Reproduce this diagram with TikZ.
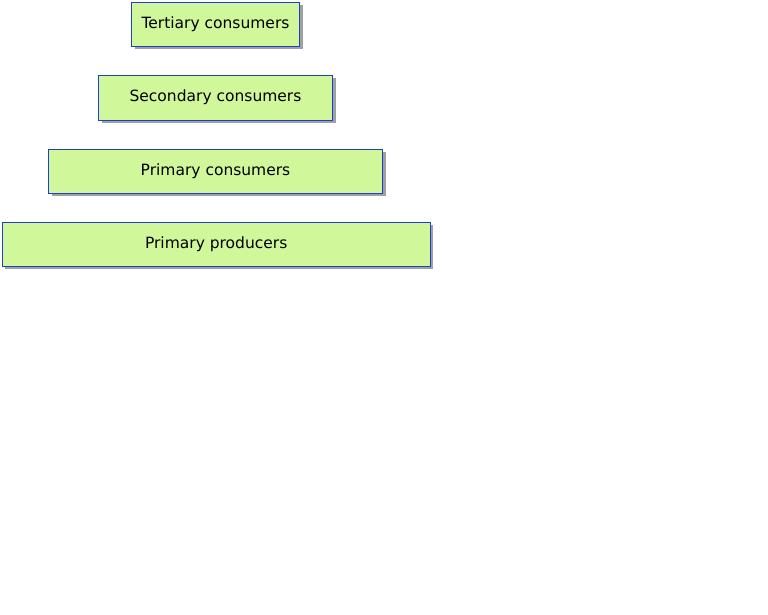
\documentclass[tikz,border=0pt]{standalone}
\usepackage{fontspec}
\setmainfont{DejaVu Sans}
\usetikzlibrary{shadows}
\definecolor{boxfill}{HTML}{D0F79A}
\definecolor{boxline}{HTML}{1A3FD6}
\definecolor{shade}{HTML}{A0A0A0}
\tikzset{
  level/.style={draw=boxline, line width=0.9pt, fill=boxfill, rectangle, inner sep=0pt,
    font=\fontsize{15.5}{18}\selectfont, text=black,
    drop shadow={shadow xshift=3pt, shadow yshift=-3pt, fill=shade, opacity=1}}
}
\begin{document}
\begin{tikzpicture}[x=1pt,y=-1pt]
\useasboundingbox (0,0) rectangle (768,614);
\node[level, minimum width=168pt, minimum height=44pt] (t) at (215.5,24.2) {Tertiary consumers};
\node[level, minimum width=234pt, minimum height=44.5pt] (s) at (215.5,97.7) {Secondary consumers};
\node[level, minimum width=334pt, minimum height=44pt] (pc) at (215.5,171.2) {Primary consumers};
\node[level, minimum width=427.5pt, minimum height=44pt] (pp) at (216.2,244.2) {Primary producers};
\end{tikzpicture}
\end{document}
